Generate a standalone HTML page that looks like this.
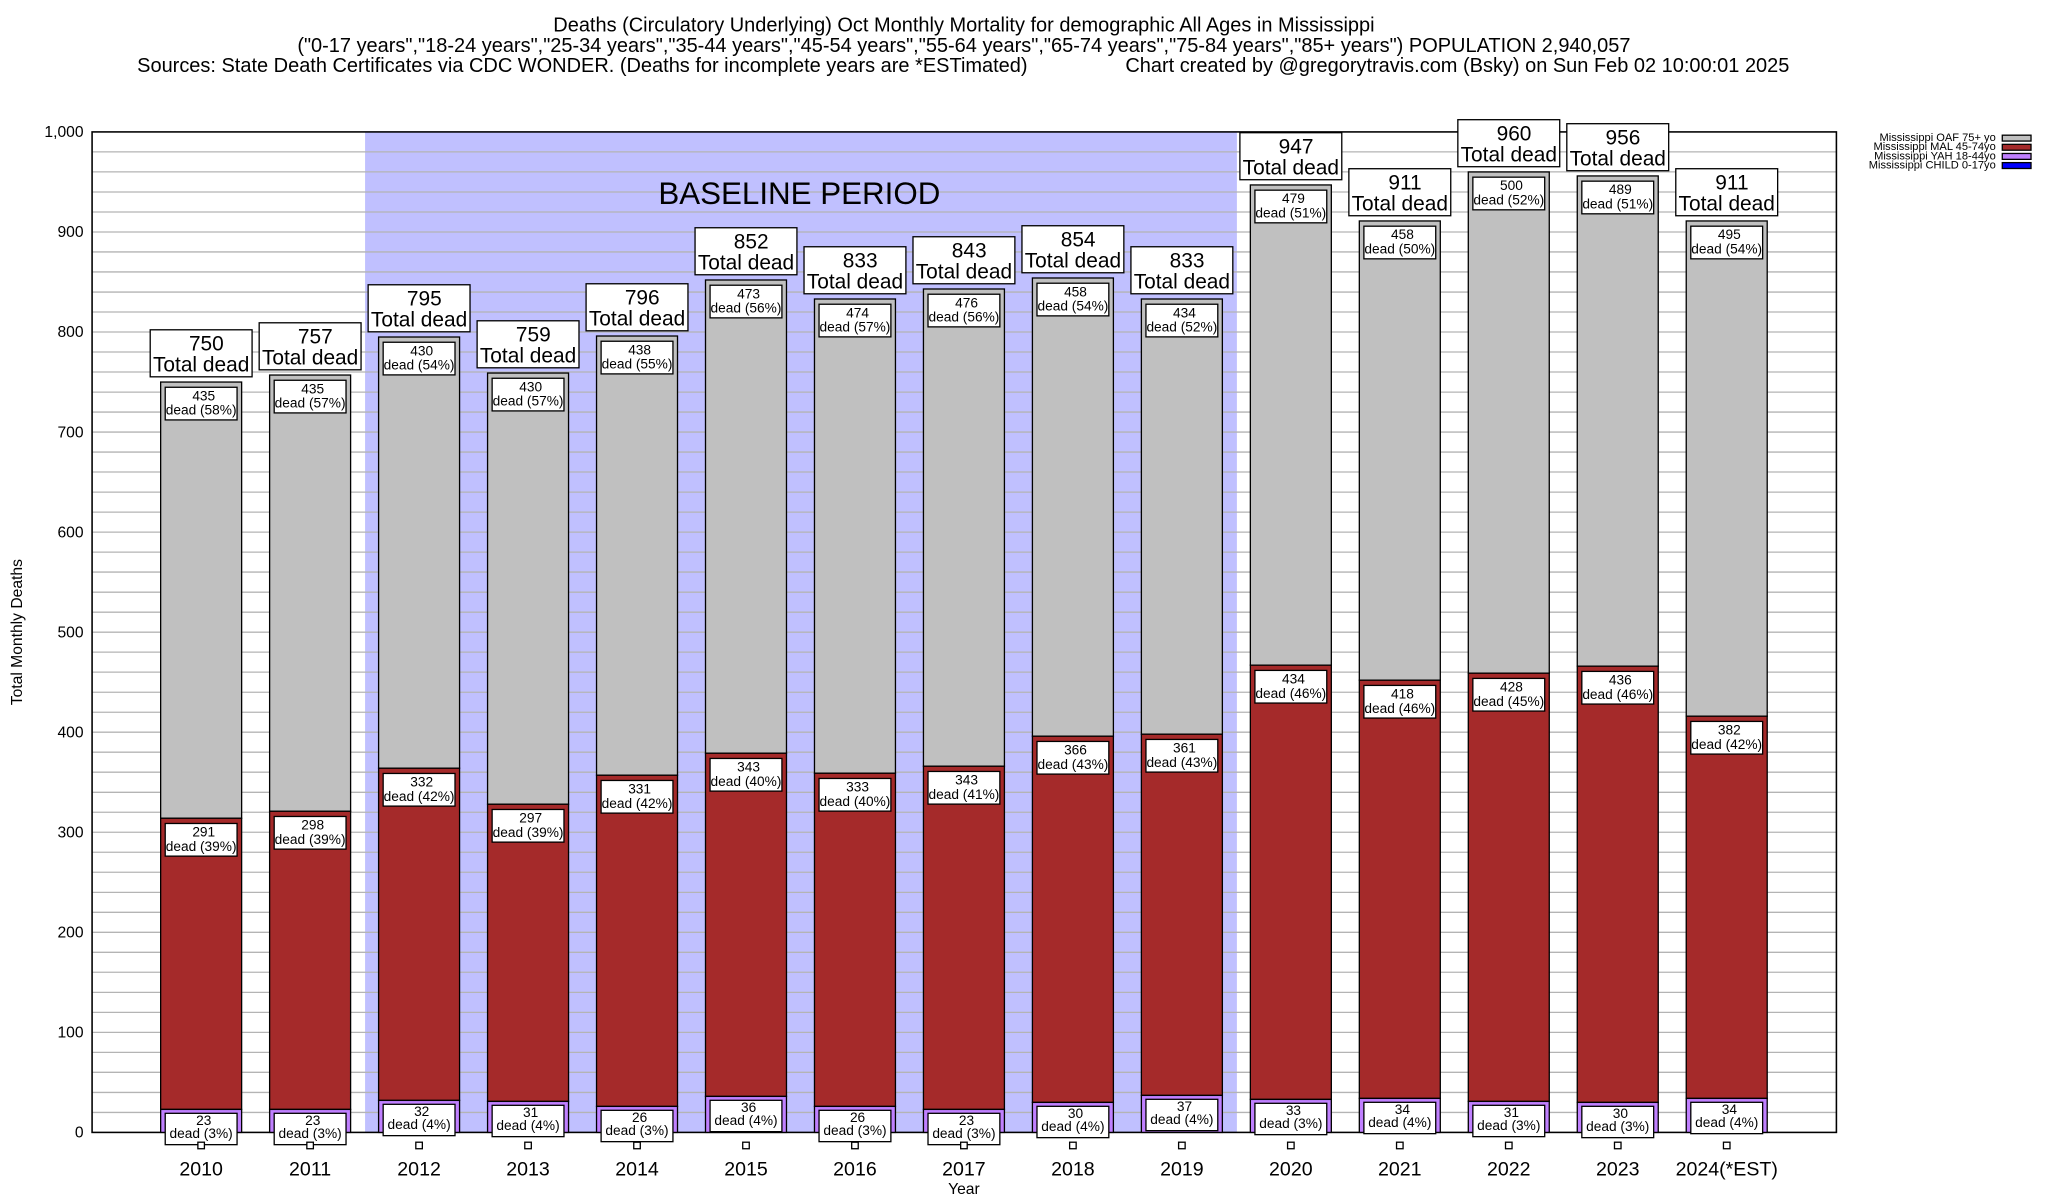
<!DOCTYPE html>
<html><head><meta charset="utf-8"><style>
html,body{margin:0;padding:0;background:#fff;}
svg{display:block;}
text{font-family:"Liberation Sans",Arial,sans-serif;fill:#000;}
</style></head><body>
<svg width="2048" height="1200" viewBox="0 0 1568 918.75" xmlns="http://www.w3.org/2000/svg">
<rect x="0" y="0" width="1568" height="919" fill="#fff"/>
<g text-anchor="middle" font-size="15.3">
<text x="738" y="24">Deaths (Circulatory Underlying) Oct Monthly Mortality for demographic All Ages in Mississippi</text>
<text x="738" y="40">("0-17 years","18-24 years","25-34 years","35-44 years","45-54 years","55-64 years","65-74 years","75-84 years","85+ years") POPULATION 2,940,057</text>
</g>
<text x="105" y="55" font-size="15.3">Sources: State Death Certificates via CDC WONDER. (Deaths for incomplete years are *ESTimated)</text>
<text x="1370" y="55" font-size="15.3" text-anchor="end">Chart created by @gregorytravis.com (Bsky) on Sun Feb 02 10:00:01 2025</text>
<rect x="279.5" y="101" width="667.5" height="766" fill="#c0c0ff"/>
<g stroke="#b4b4b4" stroke-width="1">
<line x1="70.5" x2="1406" y1="851.7" y2="851.7"/><line x1="70.5" x2="1406" y1="836.4" y2="836.4"/><line x1="70.5" x2="1406" y1="821.0" y2="821.0"/><line x1="70.5" x2="1406" y1="805.7" y2="805.7"/><line x1="70.5" x2="1406" y1="790.4" y2="790.4"/>
<line x1="70.5" x2="1406" y1="775.1" y2="775.1"/><line x1="70.5" x2="1406" y1="759.8" y2="759.8"/><line x1="70.5" x2="1406" y1="744.4" y2="744.4"/><line x1="70.5" x2="1406" y1="729.1" y2="729.1"/><line x1="70.5" x2="1406" y1="713.8" y2="713.8"/>
<line x1="70.5" x2="1406" y1="698.5" y2="698.5"/><line x1="70.5" x2="1406" y1="683.2" y2="683.2"/><line x1="70.5" x2="1406" y1="667.8" y2="667.8"/><line x1="70.5" x2="1406" y1="652.5" y2="652.5"/><line x1="70.5" x2="1406" y1="637.2" y2="637.2"/>
<line x1="70.5" x2="1406" y1="621.9" y2="621.9"/><line x1="70.5" x2="1406" y1="606.6" y2="606.6"/><line x1="70.5" x2="1406" y1="591.2" y2="591.2"/><line x1="70.5" x2="1406" y1="575.9" y2="575.9"/><line x1="70.5" x2="1406" y1="560.6" y2="560.6"/>
<line x1="70.5" x2="1406" y1="545.3" y2="545.3"/><line x1="70.5" x2="1406" y1="530.0" y2="530.0"/><line x1="70.5" x2="1406" y1="514.6" y2="514.6"/><line x1="70.5" x2="1406" y1="499.3" y2="499.3"/><line x1="70.5" x2="1406" y1="484.0" y2="484.0"/>
<line x1="70.5" x2="1406" y1="468.7" y2="468.7"/><line x1="70.5" x2="1406" y1="453.4" y2="453.4"/><line x1="70.5" x2="1406" y1="438.0" y2="438.0"/><line x1="70.5" x2="1406" y1="422.7" y2="422.7"/><line x1="70.5" x2="1406" y1="407.4" y2="407.4"/>
<line x1="70.5" x2="1406" y1="392.1" y2="392.1"/><line x1="70.5" x2="1406" y1="376.8" y2="376.8"/><line x1="70.5" x2="1406" y1="361.4" y2="361.4"/><line x1="70.5" x2="1406" y1="346.1" y2="346.1"/><line x1="70.5" x2="1406" y1="330.8" y2="330.8"/>
<line x1="70.5" x2="1406" y1="315.5" y2="315.5"/><line x1="70.5" x2="1406" y1="300.2" y2="300.2"/><line x1="70.5" x2="1406" y1="284.8" y2="284.8"/><line x1="70.5" x2="1406" y1="269.5" y2="269.5"/><line x1="70.5" x2="1406" y1="254.2" y2="254.2"/>
<line x1="70.5" x2="1406" y1="238.9" y2="238.9"/><line x1="70.5" x2="1406" y1="223.6" y2="223.6"/><line x1="70.5" x2="1406" y1="208.2" y2="208.2"/><line x1="70.5" x2="1406" y1="192.9" y2="192.9"/><line x1="70.5" x2="1406" y1="177.6" y2="177.6"/>
<line x1="70.5" x2="1406" y1="162.3" y2="162.3"/><line x1="70.5" x2="1406" y1="147.0" y2="147.0"/><line x1="70.5" x2="1406" y1="131.6" y2="131.6"/><line x1="70.5" x2="1406" y1="116.3" y2="116.3"/>
</g>
<text x="612" y="156" text-anchor="middle" font-size="24">BASELINE PERIOD</text>
<rect x="70.5" y="101" width="1335.5" height="766" fill="none" stroke="#000" stroke-width="1.2"/>
<g font-size="12" text-anchor="end">
<text x="64" y="871">0</text><text x="64" y="794.4">100</text><text x="64" y="717.8">200</text><text x="64" y="641.2">300</text><text x="64" y="564.6">400</text><text x="64" y="488">500</text><text x="64" y="411.4">600</text><text x="64" y="334.8">700</text><text x="64" y="258.2">800</text><text x="64" y="181.6">900</text><text x="64" y="105">1,000</text>
</g>
<text transform="translate(17,484) rotate(-90)" text-anchor="middle" font-size="12">Total Monthly Deaths</text>
<text x="738" y="914" text-anchor="middle" font-size="12">Year</text>
<g font-size="8.5" text-anchor="end">
<text x="1528" y="108">Mississippi OAF 75+ yo</text><text x="1528" y="115">Mississippi MAL 45-74yo</text><text x="1528" y="122">Mississippi YAH 18-44yo</text><text x="1528" y="129">Mississippi CHILD 0-17yo</text>
</g>
<rect x="1533" y="103.5" width="22" height="4.5" fill="#c0c0c0" stroke="#000"/>
<rect x="1533" y="110.5" width="22" height="4.5" fill="#a52a2a" stroke="#000"/>
<rect x="1533" y="117.5" width="22" height="4.5" fill="#c080ff" stroke="#000"/>
<rect x="1533" y="124.5" width="22" height="4.5" fill="#0000ff" stroke="#000"/>
<g id="labels"></g>
</svg>
<script>
var d=[["2010",750,435,58,291,39,23,3],["2011",757,435,57,298,39,23,3],["2012",795,430,54,332,42,32,4],["2013",759,430,57,297,39,31,4],["2014",796,438,55,331,42,26,3],["2015",852,473,56,343,40,36,4],["2016",833,474,57,333,40,26,3],["2017",843,476,56,343,41,23,3],["2018",854,458,54,366,43,30,4],["2019",833,434,52,361,43,37,4],["2020",947,479,51,434,46,33,3],["2021",911,458,50,418,46,34,4],["2022",960,500,52,428,45,31,3],["2023",956,489,51,436,46,30,3],["2024(*EST)",911,495,54,382,42,34,4]];
function y(v){return 867-0.766*v;}
var h='';
d.forEach(function(r,i){
 var cx=154+83.43*i, x=cx-31, w=62;
 var yt=y(r[1]), ym=y(r[6]+r[4]), yy=y(r[6]);
 h+='<rect x="'+x+'" y="'+yt+'" width="'+w+'" height="'+(ym-yt)+'" fill="#c0c0c0" stroke="#000"/>';
 h+='<rect x="'+x+'" y="'+ym+'" width="'+w+'" height="'+(yy-ym)+'" fill="#a52a2a" stroke="#000"/>';
 h+='<rect x="'+x+'" y="'+yy+'" width="'+w+'" height="'+(867-yy)+'" fill="#c080ff" stroke="#000"/>';
 function lab(top,n,p,dy1,dy2,hh){
  h+='<rect x="'+(cx-27.5)+'" y="'+(top+4)+'" width="55" height="'+hh+'" fill="#fff" stroke="#000"/>';
  h+='<text x="'+(cx+2)+'" y="'+(top+dy1)+'" font-size="10.5" text-anchor="middle">'+n+'</text>';
  h+='<text x="'+cx+'" y="'+(top+dy2)+'" font-size="10.5" text-anchor="middle">dead ('+p+'%)</text>';
 }
 lab(yt,r[2],r[3],14,25,25);
 lab(ym,r[4],r[5],14,25,25);
 lab(yy-1,r[6],r[7],13,23,24);
 h+='<rect x="'+(cx-2.5)+'" y="874.5" width="5" height="5" fill="#fff" stroke="#000"/>';
 h+='<rect x="'+(cx-39)+'" y="'+(yt-40)+'" width="78" height="36" fill="#fff" stroke="#000"/>';
 h+='<text x="'+(cx+4)+'" y="'+(yt-24)+'" font-size="16" text-anchor="middle">'+r[1]+'</text>';
 h+='<text x="'+cx+'" y="'+(yt-8)+'" font-size="16" text-anchor="middle">Total dead</text>';
 h+='<text x="'+cx+'" y="900" font-size="15" text-anchor="middle">'+r[0]+'</text>';
});
document.getElementById('labels').innerHTML=h;
</script>
</body></html>
